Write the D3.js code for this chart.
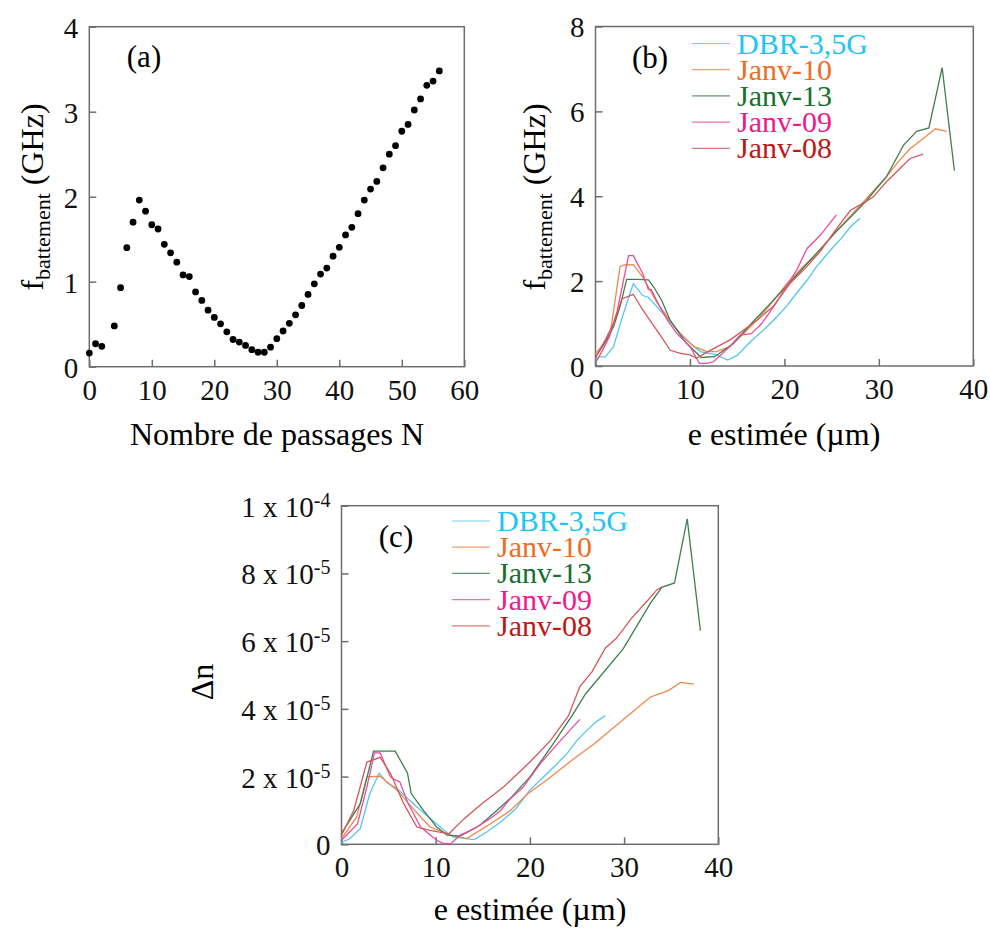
<!DOCTYPE html>
<html><head><meta charset="utf-8">
<script src="https://cdn.jsdelivr.net/npm/d3@7"></script>
<style>body{margin:0;background:#fff}svg{display:block}</style>
</head><body>
<script>
// ---------- Data ----------
// (a) beat frequency vs number of passes
const passN = [0,1,2,4,5,6,7,8,9,10,11,12,13,14,15,16,17,18,19,20,21,22,23,24,25,26,27,28,29,30,31,32,33,34,35,36,37,38,39,40,41,42,43,44,45,46,47,48,49,50,51,52,53,54,55,56];
const passF = [0.16,0.27,0.24,0.48,0.93,1.40,1.70,1.96,1.83,1.67,1.62,1.44,1.34,1.23,1.08,1.06,0.88,0.78,0.665,0.58,0.505,0.41,0.32,0.29,0.25,0.20,0.17,0.17,0.23,0.33,0.42,0.51,0.61,0.72,0.85,0.975,1.09,1.16,1.30,1.405,1.55,1.64,1.80,1.96,2.09,2.18,2.34,2.50,2.60,2.77,2.85,3.02,3.15,3.31,3.36,3.48];

const seriesNames = ["DBR-3,5G","Janv-10","Janv-13","Janv-09","Janv-08"];
const lineColors  = ["#52c7ef","#f0884c","#3f7f4f","#ea4c9e","#d45858"];
const textColors  = ["#22c4f4","#f06c1e","#17702e","#ee1a8c","#c01616"];

// (b) f_battement (GHz) vs e (µm)
const bE_dbr = [0,0.5,1.0,1.9,2.9,4.0,5.0,5.6,6.2,7.5,9.6,11.1,12.8,14.0,15.0,16.4,17.8,19.2,20.3,21.3,22.4,23.4,24.2,25.2,26.0,27.0,28.0];
const bF_dbr = [0.17,0.22,0.21,0.45,1.2,1.94,1.66,1.62,1.47,1.15,0.61,0.34,0.26,0.14,0.25,0.57,0.85,1.16,1.43,1.72,2.02,2.34,2.55,2.81,3.0,3.28,3.48];
const bE_j10 = [0,0.8,1.55,2.6,3.0,4.0,5.0,6.5,8.6,10.4,11.8,12.8,14.2,15.6,17.1,18.7,20.3,21.8,23.4,25.0,26.6,28.7,30.8,32.0,33.3,34.7,36.0,37.2];
const bF_j10 = [0.29,0.5,0.76,2.34,2.38,2.39,2.1,1.5,0.85,0.46,0.34,0.34,0.45,0.75,1.08,1.5,1.95,2.3,2.65,3.05,3.44,3.95,4.46,4.8,5.12,5.36,5.59,5.53];
const bE_j13 = [0,1.0,1.9,2.6,3.3,4.5,5.6,6.2,7.0,7.9,9.6,11.2,12.6,14.6,16.5,18.5,20.5,22.4,24.0,25.6,27.2,28.7,30.8,32.6,34.0,35.3,36.7,38.0];
const bF_j13 = [0.2,0.55,0.92,1.4,2.04,2.04,2.03,1.85,1.55,1.08,0.54,0.2,0.22,0.53,1.0,1.47,1.95,2.41,2.8,3.2,3.55,3.9,4.46,5.2,5.53,5.61,7.03,4.6];
const bE_j09 = [0,0.7,1.5,2.3,3.5,4.0,5.0,5.6,5.9,6.8,7.7,8.6,10.0,11.0,11.8,12.5,13.4,14.4,15.3,16.5,17.6,18.4,19.2,20.6,21.3,22.4,23.8,25.5];
const bF_j09 = [0.08,0.35,0.7,1.3,2.6,2.6,2.18,1.8,1.8,1.4,1.05,0.77,0.46,0.06,0.06,0.1,0.29,0.5,0.73,0.76,1.0,1.25,1.51,2.02,2.26,2.77,3.08,3.56];
const bE_j08 = [0,1.0,1.9,2.8,4.0,5.0,6.0,7.0,7.9,9.0,10.0,10.7,12.0,14.2,15.7,17.1,18.8,20.6,22.2,23.8,25.4,27.0,28.2,29.4,30.8,32.0,33.3,34.7];
const bF_j08 = [0.2,0.6,1.0,1.58,1.69,1.32,1.0,0.68,0.37,0.3,0.26,0.18,0.35,0.61,0.85,1.08,1.4,1.95,2.3,2.7,3.2,3.67,3.82,3.98,4.34,4.6,4.89,4.99];

// (c) Δn (in units of 1e-5) vs e (µm)
const cE_dbr = [0,0.9,2.0,3.0,4.0,4.9,5.9,8.0,9.5,10.9,11.9,14.1,15.5,16.9,18.5,20.0,21.5,22.9,24.0,25.0,26.0,27.0,28.0];
const cN_dbr = [0.05,0.17,0.47,1.5,2.1,1.8,1.65,1.1,0.75,0.41,0.21,0.14,0.38,0.66,1.05,1.6,2.0,2.38,2.7,3.07,3.35,3.61,3.8];
const cE_j10 = [0,1.6,2.7,4.1,5.9,8.0,9.4,11.6,13.3,15.5,17.9,19.8,21.8,24.3,26.8,29.6,32.8,34.7,36.0,37.4];
const cN_j10 = [0.17,0.8,1.99,2.01,1.6,0.93,0.51,0.27,0.17,0.55,0.99,1.5,1.9,2.45,2.96,3.61,4.35,4.54,4.78,4.73];
const cE_j13 = [0,2.0,3.4,5.7,7.0,7.4,8.7,10.1,11.2,12.6,14.7,16.9,17.9,20.0,22.3,24.6,25.9,29.9,32.8,34.0,35.35,36.7,38.1];
const cN_j13 = [0.32,1.2,2.75,2.75,2.11,1.5,1.0,0.51,0.27,0.24,0.56,1.1,1.35,1.99,2.9,3.85,4.44,5.77,7.12,7.59,7.72,9.61,6.31];
const cE_j09 = [0,1.7,2.7,3.5,4.1,5.2,5.7,6.2,7.0,8.4,10.1,10.85,11.6,12.6,14.0,15.8,16.9,17.9,19.3,21.1,22.9,25.3];
const cN_j09 = [0.12,0.6,1.7,2.7,2.7,1.99,1.9,1.84,1.25,0.51,0.12,0.02,0.02,0.27,0.45,0.76,1.0,1.34,1.69,2.38,2.96,3.69];
const cE_j08 = [0,1.3,2.7,4.1,5.2,6.6,8.0,9.4,11.4,13.0,14.7,17.2,20.0,22.2,24.1,25.3,26.6,28.0,29.2,30.8,32.4,33.5,34.0];
const cN_j08 = [0.27,1.0,2.43,2.57,2.09,1.2,0.51,0.41,0.31,0.75,1.15,1.69,2.43,3.07,3.8,4.66,5.1,5.79,6.09,6.68,7.17,7.52,7.6];

const aTicksX = [0,10,20,30,40,50,60], aTicksY = [0,1,2,3,4];
const bTicksX = [0,10,20,30,40], bTicksY = [0,2,4,6,8];
const cTicksY = [0,2,4,6,8,10];

// ---------- Font detection (pick an installed Times-like serif) ----------
function pickFont(cands) {
  const c = document.createElement("canvas").getContext("2d");
  const probe = "Nombre de passages N 0123456789 mwiIl";
  for (const f of cands) {
    let ok = true;
    for (const base of ["monospace", "sans-serif"]) {
      c.font = `40px ${base}`; const w0 = c.measureText(probe).width;
      c.font = `40px "${f}", ${base}`; const w1 = c.measureText(probe).width;
      if (Math.abs(w0 - w1) < 0.5) { ok = false; break; }
    }
    if (ok) return `"${f}"`;
  }
  return "serif";
}
const FONT = pickFont(["Liberation Serif","Times New Roman","Tinos","Nimbus Roman","FreeSerif","DejaVu Serif","Noto Serif"]) + ", serif";

// ---------- Drawing ----------
const W = 990, H = 928;
const AX = "#6e6e6e";
const svg = d3.select("body").append("svg").attr("width", W).attr("height", H)
  .attr("font-family", FONT);

function frame(x0, x1, y0, y1) {
  svg.append("rect").attr("x", x0).attr("y", y0).attr("width", x1 - x0).attr("height", y1 - y0)
    .attr("fill", "none").attr("stroke", AX).attr("stroke-width", 1.5);
}
function styleAxis(g) {
  g.attr("font-family", FONT).attr("font-size", 29);
  g.select(".domain").remove();
  g.selectAll(".tick line").attr("stroke", AX).attr("stroke-width", 1.5);
  g.selectAll(".tick text").attr("fill", "#111");
}

function panel(cfg) {
  const x = d3.scaleLinear().domain(cfg.xd).range([cfg.x0, cfg.x1]);
  const y = d3.scaleLinear().domain(cfg.yd).range([cfg.y1, cfg.y0]);
  const gx = svg.append("g").attr("transform", `translate(0,${cfg.y1})`)
    .call(d3.axisBottom(x).tickValues(cfg.tx).tickSize(-7).tickPadding(12.5).tickFormat(d3.format("d")));
  styleAxis(gx);
  const gy = svg.append("g").attr("transform", `translate(${cfg.x0},0)`)
    .call(d3.axisLeft(y).tickValues(cfg.ty).tickSize(-7).tickPadding(11).tickFormat(cfg.fy || d3.format("d")));
  styleAxis(gy);
  gy.selectAll(".tick text").attr("dy", "0.36em");
  frame(cfg.x0, cfg.x1, cfg.y0, cfg.y1);
  return {x, y, gy};
}

function txt(x, y, s, size, anchor) {
  return svg.append("text").attr("x", x).attr("y", y).attr("text-anchor", anchor || "middle")
    .attr("font-family", FONT).attr("font-size", size).text(s);
}

// ---- (a)
const A = panel({x0: 89.3, x1: 464.3, y0: 26.7, y1: 366.7, xd: [0,60], yd: [0,4], tx: aTicksX, ty: aTicksY});
svg.append("g").selectAll("circle").data(passN).join("circle")
  .attr("cx", (d) => A.x(d)).attr("cy", (d, i) => A.y(passF[i])).attr("r", 3.4).attr("fill", "#000");
txt(144, 67, "(a)", 31);
txt(277, 445, "Nombre de passages N", 32);

function fbattTitle(cx, cy) {
  const t = svg.append("text").attr("transform", `translate(${cx},${cy}) rotate(-90)`)
    .attr("text-anchor", "middle").attr("font-family", FONT).attr("font-size", 32);
  t.append("tspan").text("f");
  t.append("tspan").attr("dy", "0.32em").attr("font-size", 22).text("battement");
  t.append("tspan").attr("dy", "-0.22em").text(" (GHz)");
}
fbattTitle(43, 197);

// ---- (b)
const B = panel({x0: 595.5, x1: 973.3, y0: 26.5, y1: 366, xd: [0,40], yd: [0,8], tx: bTicksX, ty: bTicksY});
txt(650, 68, "(b)", 31);
txt(784, 445, "e estimée (µm)", 32);
fbattTitle(545, 197);

const bSeries = [[bE_dbr,bF_dbr],[bE_j10,bF_j10],[bE_j13,bF_j13],[bE_j09,bF_j09],[bE_j08,bF_j08]];
const lineB = d3.line().x((d) => B.x(d[0])).y((d) => B.y(d[1]));
bSeries.forEach(([es, fs], k) => {
  svg.append("path").datum(es.map((e, i) => [e, fs[i]])).attr("d", lineB)
    .attr("fill", "none").attr("stroke", lineColors[k]).attr("stroke-width", 1.3);
});

function legend(x0, y0, dy) {
  seriesNames.forEach((n, k) => {
    const yy = y0 + k * dy;
    svg.append("line").attr("x1", x0).attr("x2", x0 + 38).attr("y1", yy).attr("y2", yy)
      .attr("stroke", lineColors[k]).attr("stroke-width", 1.2).attr("opacity", 0.8);
    txt(x0 + 45, yy + 10, n, 30, "start").attr("fill", textColors[k]);
  });
}
legend(692, 43.5, 26.2);

// ---- (c)
const C = panel({x0: 341.5, x1: 718.3, y0: 505.7, y1: 844.3, xd: [0,40], yd: [0,10], tx: bTicksX, ty: cTicksY,
  fy: () => ""});
C.gy.selectAll(".tick text").each(function (d) {
  const t = d3.select(this);
  if (d === 0) { t.text("0"); return; }
  const m = d === 10 ? 1 : d, ex = d === 10 ? "-4" : "-5";
  t.append("tspan").text(`${m} x 10`);
  t.append("tspan").attr("dy", "-0.5em").attr("font-size", 20).text(ex);
});
txt(396, 547, "(c)", 31);
txt(530, 920, "e estimée (µm)", 32);
svg.append("text").attr("transform", "translate(213,682) rotate(-90)").attr("text-anchor", "middle")
  .attr("font-family", FONT).attr("font-size", 32).text("Δn");

const cSeries = [[cE_dbr,cN_dbr],[cE_j10,cN_j10],[cE_j13,cN_j13],[cE_j09,cN_j09],[cE_j08,cN_j08]];
const lineC = d3.line().x((d) => C.x(d[0])).y((d) => C.y(d[1]));
cSeries.forEach(([es, ns], k) => {
  svg.append("path").datum(es.map((e, i) => [e, ns[i]])).attr("d", lineC)
    .attr("fill", "none").attr("stroke", lineColors[k]).attr("stroke-width", 1.3);
});
legend(452, 521, 26.2);
</script>
</body></html>
